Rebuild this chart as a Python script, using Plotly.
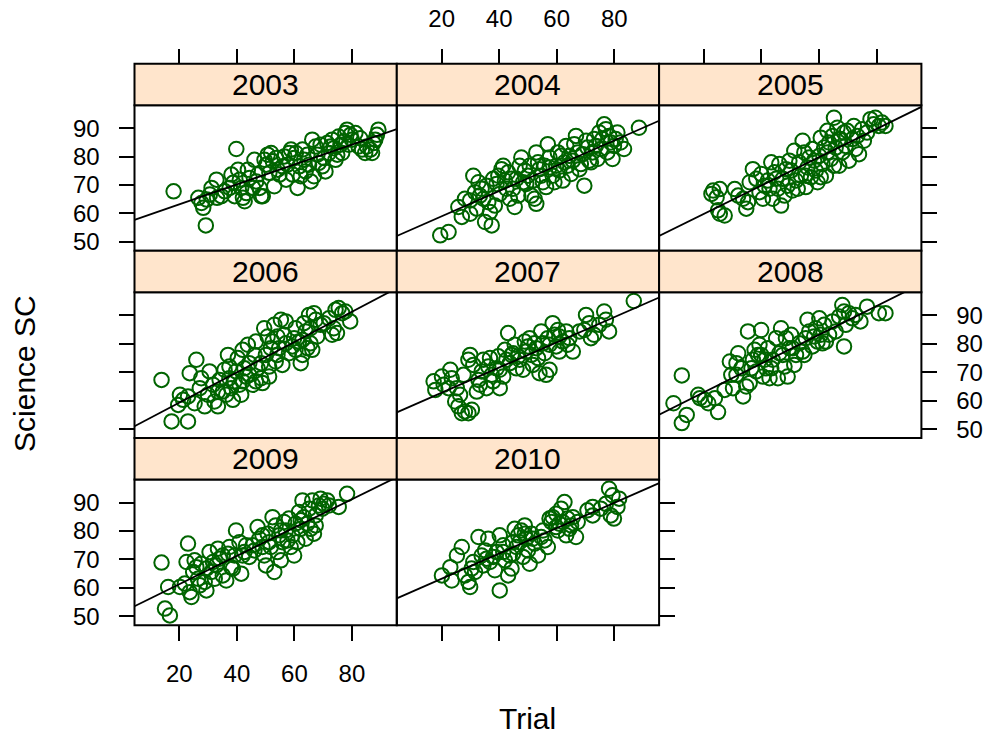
import numpy as np
import plotly.graph_objects as go

# ---- data: (Trial, Science SC) pairs per year ----
years = ["2003", "2004", "2005", "2006", "2007", "2008", "2009", "2010"]

pts_2003 = [(18.0,67.8),(29.2,55.8),(39.8,82.7),(26.6,65.5),(27.7,63.7),(28.3,62.0),(29.5,64.9),(30.6,66.7),
            (31.2,69.0),(32.9,71.9),(33.1,65.5),(34.6,66.1),(35.8,67.8),(37.5,69.0),(38.1,73.7),(38.7,70.8),
            (39.2,66.1),(40.4,75.4),(41.0,71.9),(41.5,69.0),(42.1,65.5),(42.7,64.3),(43.3,67.2),(43.8,75.4),
            (44.4,72.5),(45.6,69.0),(46.1,78.9),(46.7,71.3),(47.3,73.7),(47.9,69.0),(48.4,66.1),(49.0,66.1),
            (49.6,78.9),(50.2,77.2),(50.7,80.7),(51.3,74.3),(51.9,81.3),(52.5,78.4),(53.0,69.6),(53.6,79.5),
            (54.2,75.4),(54.8,73.7),(55.9,76.6),(56.5,80.1),(57.1,71.9),(57.6,77.2),(58.2,81.3),(58.8,82.5),
            (59.4,73.7),(59.9,79.5),(60.5,81.3),(61.1,69.0),(61.7,76.6),(62.2,73.1),(62.8,82.5),(63.4,78.9),
            (63.9,74.8),(64.5,80.7),(65.1,77.2),(65.7,71.3),(66.2,86.0),(66.8,73.1),(67.4,83.6),(68.0,80.7),
            (68.5,77.8),(69.1,84.2),(69.7,76.6),(70.3,79.5),(70.8,74.8),(71.4,84.8),(72.0,81.3),(72.6,83.6),
            (73.1,86.0),(73.7,83.0),(74.3,78.9),(74.9,80.7),(75.4,87.1),(76.0,84.2),(76.6,81.3),(77.2,85.4),
            (77.7,88.3),(78.3,89.5),(78.9,84.2),(79.5,87.7),(80.0,86.0),(81.2,88.3),(82.3,83.6),(82.9,86.5),
            (83.5,82.5),(84.6,81.3),(85.2,83.6),(86.4,82.5),(87.0,81.3),(87.5,84.8),(88.1,86.0),(89.2,89.5),
            (88.7,87.7)]

pts_2004 = [(19.5,52.3),(22.4,53.5),(25.8,62.3),(28.1,65.2),(27.0,58.8),(29.9,59.9),(32.2,61.7),(31.0,73.3),
            (32.8,71.0),(33.9,68.7),(34.5,65.2),(35.1,57.0),(37.4,55.8),(36.8,60.5),(37.9,72.2),(39.1,70.4),
            (40.2,66.9),(41.4,76.8),(42.0,71.6),(43.1,74.5),(43.7,65.2),(44.8,68.7),(45.4,62.3),(46.0,72.2),
            (47.1,76.8),(47.7,79.7),(48.9,75.1),(49.4,70.4),(50.6,76.8),(51.2,66.3),(52.3,65.2),(52.9,63.4),
            (52.9,81.5),(54.0,75.6),(55.2,71.0),(55.8,76.8),(56.3,69.3),(56.9,84.4),(57.5,79.7),(58.6,73.3),
            (59.8,76.8),(60.4,81.5),(60.9,75.1),(61.5,80.3),(62.1,71.6),(63.3,83.8),(63.8,76.8),(64.4,80.3),
            (65.6,78.6),(66.1,84.4),(66.7,87.3),(67.3,81.5),(67.9,75.6),(68.4,77.4),(69.6,69.8),(70.2,85.6),
            (70.7,83.2),(71.3,78.6),(72.5,81.5),(73.0,86.2),(73.6,83.8),(74.2,79.2),(74.8,88.5),(75.3,82.7),
            (75.9,86.2),(76.5,91.4),(77.1,89.7),(77.6,81.5),(78.2,87.3),(79.4,79.2),(79.9,83.8),(81.1,88.5),
            (82.2,85.0),(83.4,82.7),(88.6,90.2),(33.3,66.3),(35.6,69.8),(36.2,64.0),(38.5,62.8),(39.7,73.3),
            (40.8,75.6),(42.5,68.7),(44.3,72.2),(46.6,66.3),(48.3,71.0),(50.0,73.3),(51.7,71.6),(53.5,78.0),
            (54.6,73.3),(57.5,76.2),(59.2,71.0),(62.7,78.0),(65.0,73.9),(69.0,80.9),(71.9,78.0),(78.8,85.0),
            (80.5,86.2),(29.9,64.6),(31.6,67.5)]

pts_2005 = [(23.2,68.1),(25.5,68.6),(24.4,65.7),(22.6,66.9),(25.5,59.9),(27.2,59.3),(24.9,61.1),(30.7,68.6),
            (31.9,66.3),(33.6,65.2),(34.7,61.7),(35.3,64.0),(35.9,71.0),(37.0,75.6),(38.2,72.2),(39.3,67.5),
            (39.9,73.9),(41.1,69.8),(42.2,71.6),(43.4,78.0),(43.9,65.2),(44.5,74.5),(45.7,68.7),(46.2,77.4),
            (46.8,62.8),(47.4,72.2),(48.0,66.3),(49.1,69.8),(49.7,78.6),(50.3,75.1),(50.8,68.1),(51.4,82.1),
            (52.0,71.6),(53.1,78.0),(53.7,73.3),(54.3,85.6),(54.9,81.5),(55.4,69.3),(56.0,76.2),(56.6,79.7),
            (57.2,72.8),(57.7,82.7),(58.9,75.1),(59.5,71.0),(60.1,80.3),(60.6,86.7),(61.2,77.4),(61.8,83.2),
            (62.4,73.3),(62.9,89.1),(63.5,85.0),(64.1,79.2),(64.7,87.3),(65.2,93.7),(65.8,83.2),(66.4,90.2),
            (67.0,76.8),(67.5,86.2),(68.1,81.5),(68.7,88.5),(69.3,83.8),(70.4,78.6),(71.6,86.2),(72.1,90.8),
            (72.7,82.7),(73.3,87.3),(73.9,80.9),(75.0,89.7),(75.6,85.6),(76.7,88.5),(77.9,93.2),(79.0,91.4),
            (79.6,93.7),(80.8,90.8),(81.9,92.0),(83.1,90.8),(40.5,65.2),(42.8,68.7),(45.1,72.2),(48.5,75.6),
            (52.6,68.7),(55.4,73.3),(58.3,78.6),(60.6,72.8),(62.9,81.5),(65.2,76.8),(67.0,86.2),(69.8,89.1)]

pts_2006 = [(13.8,67.3),(17.3,52.7),(23.0,52.7),(25.9,74.4),(23.6,69.7),(20.2,62.1),(21.3,60.3),(19.6,58.5),
            (23.0,61.5),(25.3,59.1),(27.1,64.4),(27.6,67.9),(28.8,58.0),(29.9,62.1),(30.5,70.3),(31.7,65.6),
            (32.2,59.7),(33.4,58.0),(34.0,67.3),(35.1,63.2),(35.7,70.9),(36.9,76.1),(37.4,67.9),(38.0,64.4),
            (38.6,60.3),(39.7,70.3),(40.3,75.0),(40.9,65.6),(41.5,62.1),(42.0,77.9),(42.6,71.4),(43.2,68.5),
            (43.8,79.7),(44.3,73.2),(45.5,65.6),(46.1,76.1),(46.6,80.8),(47.2,71.4),(48.4,67.9),(48.9,66.2),
            (49.5,85.5),(50.1,76.1),(50.7,82.6),(51.2,72.0),(51.8,78.5),(52.4,80.8),(53.0,86.7),(53.5,73.8),
            (54.1,82.6),(54.7,78.5),(55.3,88.5),(55.8,72.6),(56.4,83.2),(57.0,87.9),(58.1,76.7),(59.3,79.1),
            (59.9,82.0),(60.4,77.9),(61.6,80.8),(62.2,73.2),(62.8,76.1),(63.3,87.3),(63.9,84.4),(64.5,78.5),
            (65.1,90.2),(65.6,85.5),(66.2,77.9),(66.8,90.8),(67.4,88.5),(67.9,82.6),(69.1,86.7),(70.2,87.3),
            (72.0,89.0),(73.1,83.2),(73.7,85.5),(74.3,92.0),(74.8,83.8),(75.4,92.6),(76.6,90.8),(77.7,91.4),
            (79.4,87.9),(33.4,63.2),(36.3,62.1),(37.4,72.0),(39.2,66.8),(42.0,66.8),(44.3,69.1),(46.6,66.8),
            (48.4,73.2),(51.2,68.5),(54.1,76.1),(57.0,80.2),(60.4,85.5),(62.8,81.4),(65.6,80.2)]

pts_2007 = [(17.2,66.8),(17.8,63.8),(20.1,68.5),(20.7,65.6),(22.4,64.4),(23.0,70.9),(23.5,67.9),(24.7,59.7),
            (25.8,58.0),(26.4,62.1),(27.0,55.6),(28.1,56.2),(29.3,55.6),(30.5,56.8),(25.3,64.4),(27.6,69.1),
            (29.3,74.4),(29.9,76.1),(31.0,72.6),(32.2,63.2),(32.8,67.3),(33.9,70.3),(34.5,74.4),(35.6,64.4),
            (36.2,72.0),(37.4,69.1),(37.9,66.8),(39.1,71.4),(39.7,75.6),(40.2,64.4),(41.4,68.5),(42.0,77.9),
            (43.1,83.8),(43.7,73.2),(44.3,76.1),(45.4,79.7),(46.0,71.4),(47.1,74.4),(48.3,70.9),(48.9,80.8),
            (49.4,77.3),(50.6,82.0),(51.2,76.1),(51.7,72.6),(52.3,80.2),(52.9,78.5),(54.0,69.7),(54.6,84.4),
            (55.2,80.2),(55.8,76.7),(56.3,69.1),(56.9,82.0),(57.5,70.9),(58.6,87.3),(59.2,83.2),(59.8,79.1),
            (60.4,84.9),(60.9,77.3),(62.1,80.8),(63.3,84.4),(64.4,82.0),(65.6,77.3),(67.9,84.4),(69.6,84.9),
            (70.2,90.2),(71.3,87.3),(71.9,82.0),(73.0,83.2),(74.8,86.7),(76.5,91.4),(77.1,88.5),(78.2,84.4),
            (86.8,95.1),(33.3,65.6),(36.8,75.0),(40.2,70.9),(42.5,74.4),(44.8,76.7),(46.6,75.6),(50.0,79.1),
            (53.5,75.0),(57.5,79.7),(60.9,82.6),(63.8,79.7)]

pts_2008 = [(9.4,59.1),(12.3,68.9),(12.3,52.1),(14.0,55.0),(18.0,62.1),(18.6,60.9),(20.3,60.3),(21.5,59.1),
            (23.8,60.9),(24.9,56.0),(27.2,63.8),(29.0,73.8),(30.1,64.4),(29.5,69.1),(31.3,73.2),(31.9,76.7),
            (33.0,71.4),(33.6,61.5),(34.7,65.0),(35.3,84.4),(35.9,66.2),(37.0,74.4),(37.6,77.9),(38.2,70.3),
            (39.3,79.7),(39.9,84.9),(39.9,76.1),(40.5,68.5),(41.6,71.4),(42.2,78.5),(42.8,67.9),(43.9,74.4),
            (45.1,82.0),(45.7,67.9),(46.2,76.7),(46.8,85.5),(48.0,72.0),(48.5,82.0),(49.1,68.5),(49.7,78.5),
            (50.3,83.2),(51.4,72.6),(52.0,76.1),(53.1,80.2),(54.3,77.3),(55.4,82.0),(56.0,88.5),(56.6,84.4),
            (57.7,79.1),(58.9,85.5),(59.5,80.8),(60.1,89.0),(60.6,83.2),(61.8,86.7),(62.4,80.8),(63.5,83.2),
            (64.7,87.9),(65.8,84.4),(67.0,89.6),(68.1,93.7),(68.7,79.1),(69.3,86.7),(70.4,90.8),(71.6,89.0),
            (72.7,90.2),(74.4,87.9),(76.7,93.1),(80.8,90.8),(83.1,90.8),(68.7,91.4),(31.3,69.1),(36.5,71.4),
            (38.8,76.1),(41.1,74.4),(43.4,71.4),(47.4,76.1),(50.8,78.5),(54.9,76.1),(58.3,82.6),(61.2,80.2)]

pts_2009 = [(13.8,68.9),(15.0,52.7),(16.7,50.3),(16.1,60.3),(20.2,60.3),(21.9,61.5),(23.0,75.6),(22.5,69.1),
            (23.6,58.5),(24.2,56.8),(24.8,65.6),(25.3,69.7),(25.9,67.3),(26.5,63.2),(27.1,60.9),(27.6,68.5),
            (28.8,62.1),(29.4,59.1),(30.5,72.6),(31.1,65.6),(32.3,63.2),(32.8,67.9),(33.4,73.8),(34.0,70.3),
            (35.1,64.4),(36.3,62.6),(36.9,72.0),(37.4,74.4),(38.0,67.3),(39.2,71.4),(39.7,80.2),(40.9,76.1),
            (41.5,65.0),(42.6,72.6),(43.2,75.0),(44.3,70.9),(46.1,73.2),(47.2,81.4),(47.8,77.3),(48.9,74.4),
            (49.5,71.4),(50.1,67.9),(50.7,79.1),(51.2,76.1),(52.4,84.9),(53.0,65.6),(53.5,82.0),(54.1,72.6),
            (54.7,78.5),(55.3,69.7),(55.8,76.1),(56.4,83.2),(57.0,80.2),(58.1,84.4),(58.7,74.4),(59.3,78.5),
            (59.9,71.4),(60.4,82.6),(61.0,76.1),(61.6,86.7),(62.2,80.8),(62.8,90.8),(63.3,84.9),(63.9,77.3),
            (65.1,87.9),(65.6,80.8),(66.2,90.8),(66.8,79.1),(67.4,85.5),(68.5,89.0),(69.1,91.4),(70.2,89.6),
            (71.4,90.8),(72.0,89.0),(75.4,88.5),(78.3,93.1),(29.4,66.8),(31.7,69.1),(35.1,71.4),(38.6,66.8),
            (42.0,71.4),(45.5,75.0),(48.9,78.5),(51.8,74.4),(55.3,80.2),(57.6,76.7),(62.2,83.8),(64.5,82.6),
            (67.4,82.0),(69.7,87.9)]

pts_2010 = [(20.1,64.4),(23.0,67.3),(23.5,62.6),(25.3,71.4),(27.0,74.4),(28.1,64.4),(29.3,62.1),(29.9,60.3),
            (30.4,66.8),(31.6,65.6),(32.8,77.9),(33.9,71.4),(34.5,67.9),(35.1,73.2),(36.2,77.3),(36.8,69.1),
            (37.9,70.9),(38.5,66.2),(39.1,72.6),(40.2,59.1),(40.2,78.5),(41.4,75.0),(42.0,69.7),(43.1,64.4),
            (43.7,71.4),(44.3,66.8),(44.8,76.1),(45.4,80.8),(46.0,74.4),(46.6,78.5),(47.7,80.2),(48.3,70.9),
            (48.9,82.0),(49.4,77.3),(50.0,73.2),(50.6,68.5),(51.2,79.1),(52.3,75.6),(53.5,71.4),(54.6,77.9),
            (55.8,76.7),(56.9,74.4),(57.5,84.4),(58.1,83.2),(58.6,84.9),(59.8,86.1),(60.4,80.2),(60.9,82.6),
            (61.5,87.9),(62.1,83.2),(62.7,90.2),(63.3,78.5),(63.8,84.4),(64.4,80.8),(65.6,84.9),(66.7,77.9),
            (67.3,83.2),(70.7,87.3),(72.5,85.5),(75.3,87.9),(77.1,89.6),(78.2,94.9),(78.8,85.5),(79.4,92.6),
            (79.9,84.4),(81.1,88.5),(81.7,91.4),(31.0,69.1),(35.6,70.3),(41.4,72.6),(44.8,72.0),(47.1,76.1),
            (48.9,79.1),(51.7,77.3),(55.2,80.2),(59.8,81.4),(65.0,82.0),(72.5,88.5)]

panel_points = [pts_2003, pts_2004, pts_2005, pts_2006, pts_2007, pts_2008, pts_2009, pts_2010]

x_ticks = [20, 40, 60, 80]
y_ticks = [50, 60, 70, 80, 90]
x_range = [4.4, 95.6]
y_range = [46.85, 98.15]

# ---- page geometry (pixels) ----
W, H = 985, 746
col_left = [134.5, 396.8, 659.1]
col_w = 262.3
row_top = [105.7, 293.9, 482.1]
panel_h = 146.5
strip_h = 41.7

GREEN = "#006400"
STRIP = "#FFE5CC"
FONT = "Liberation Sans, Arial, sans-serif"
TICK_FONT = dict(family=FONT, size=24, color="black")

# which side carries ticks / labels for each panel (lattice alternating axes)
x_side = ["top", "top", "top", None, None, None, "bottom", "bottom"]
x_labels = [False, True, False, False, False, False, True, False]
y_side = ["left", None, "right", "left", None, "right", "left", "right"]
y_labels = [True, False, False, False, False, True, True, False]

fig = go.Figure()
layout = dict(width=W, height=H, margin=dict(l=0, r=0, t=0, b=0),
              paper_bgcolor="white", plot_bgcolor="white", showlegend=False,
              font=dict(family=FONT, color="black"))
shapes, annotations = [], []

for i, year in enumerate(years):
    r, c = divmod(i, 3)
    k = "" if i == 0 else str(i + 1)
    xd = [col_left[c] / W, (col_left[c] + col_w) / W]
    yd = [1 - (row_top[r] + panel_h) / H, 1 - row_top[r] / H]

    xs = np.array([p[0] for p in panel_points[i]])
    ys = np.array([p[1] for p in panel_points[i]])
    slope, icpt = np.polyfit(xs, ys, 1)
    lx = np.array(x_range)

    fig.add_trace(go.Scatter(x=xs, y=ys, mode="markers", xaxis="x" + k, yaxis="y" + k,
                             marker=dict(symbol="circle-open", size=14.5, color=GREEN,
                                         line=dict(width=2, color=GREEN)),
                             cliponaxis=True, hoverinfo="skip"))
    fig.add_trace(go.Scatter(x=lx, y=icpt + slope * lx, mode="lines", xaxis="x" + k, yaxis="y" + k,
                             line=dict(color="black", width=1.8), hoverinfo="skip"))

    xa = dict(domain=xd, range=x_range, showgrid=False, zeroline=False, showline=False,
              tickvals=x_ticks, tickfont=TICK_FONT, ticks="", showticklabels=False)
    if x_side[i] == "top":
        xa.update(side="top", anchor="free", position=1 - (row_top[r] - strip_h) / H)
    else:
        xa.update(anchor="y" + k, side="bottom")
    if x_side[i]:
        xa.update(ticks="outside", ticklen=15, tickwidth=2, tickcolor="black",
                  showticklabels=x_labels[i], ticklabelstandoff=12)
    ya = dict(domain=yd, range=y_range, showgrid=False, zeroline=False, showline=False,
              tickvals=y_ticks, tickfont=TICK_FONT, ticks="", showticklabels=False,
              anchor="x" + k, side=y_side[i] or "left")
    if y_side[i]:
        ya.update(ticks="outside", ticklen=15, tickwidth=2, tickcolor="black",
                  showticklabels=y_labels[i], ticklabelstandoff=14)
    layout["xaxis" + k] = xa
    layout["yaxis" + k] = ya

    # panel frame
    shapes.append(dict(type="rect", xref="x" + k + " domain", yref="y" + k + " domain",
                       x0=0, x1=1, y0=0, y1=1, line=dict(color="black", width=2),
                       fillcolor="rgba(0,0,0,0)", layer="above"))
    # strip
    sh = strip_h / panel_h
    shapes.append(dict(type="rect", xref="x" + k + " domain", yref="y" + k + " domain",
                       x0=0, x1=1, y0=1, y1=1 + sh, line=dict(color="black", width=2),
                       fillcolor=STRIP, layer="above"))
    annotations.append(dict(text=year, xref="x" + k + " domain", yref="y" + k + " domain",
                            x=0.5, y=1 + sh / 2, showarrow=False, xanchor="center", yanchor="middle",
                            font=dict(family=FONT, size=30, color="black")))

annotations.append(dict(text="Trial", xref="paper", yref="paper", x=(col_left[0] + 3 * col_w / 2) / W,
                        y=1 - 722 / H, showarrow=False, xanchor="center", yanchor="middle",
                        font=dict(family=FONT, size=30, color="black")))
annotations.append(dict(text="Science SC", xref="paper", yref="paper", x=25 / W, y=1 - 376 / H,
                        textangle=-90, showarrow=False, xanchor="center", yanchor="middle",
                        font=dict(family=FONT, size=30, color="black")))

layout["shapes"] = shapes
layout["annotations"] = annotations
fig.update_layout(**layout)
fig.write_html("out.html")
